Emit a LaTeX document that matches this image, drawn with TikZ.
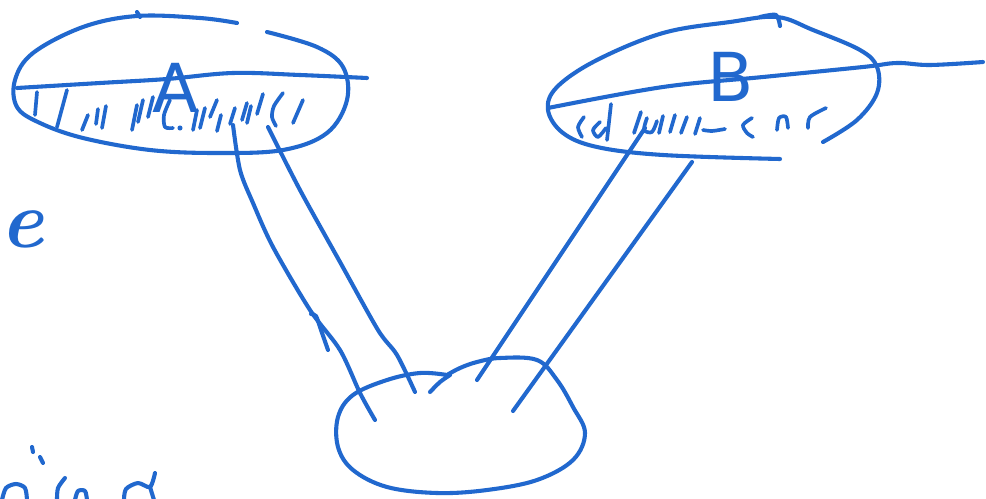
\documentclass[tikz,border=0pt]{standalone}
\usepackage{fontspec}
\setsansfont{DejaVu Sans}
\definecolor{ink}{RGB}{33,104,206}
\tikzset{
  pen/.style={draw=ink, line width=2.9pt, line cap=round, line join=round},
  hatch/.style={pen, line width=2.6pt},
  lettertag/.style={text=ink, inner sep=0pt, font=\sffamily\fontsize{48}{48}\selectfont}
}
\begin{document}
\begin{tikzpicture}[x=0.025cm, y=-0.025cm]
\path[use as bounding box, fill=white] (0,0) rectangle (986,499);

% ---- region A: outline, split line, hatching ----
\draw[pen] plot[smooth, tension=0.6] coordinates {(237,23) (200,18) (137,16) (83,27) (33,53) (15,80) (17,107) (40,123) (83,138) (150,150) (217,153) (283,150) (327,133) (347,100) (343,67) (317,47) (267,32)};
\draw[pen] (137,12) -- (140,17);
\draw[pen] plot[smooth, tension=0.6] coordinates {(17,88) (100,83) (167,79) (233,73) (300,75) (367,78)};
\node[lettertag] (A) at (176,88) {A};
\foreach \a/\b in {
  {(37,92)}/{(35,115)}, {(67,90)}/{(57,127)}, {(88,115)}/{(82,130)},
  {(98,109)}/{(96,124)}, {(106,106)}/{(102,128)}, {(137,105)}/{(132,130)},
  {(143,100)}/{(138,122)}, {(153,97)}/{(148,117)}, {(197,110)}/{(193,130)},
  {(205,108)}/{(200,128)}, {(217,100)}/{(210,117)}, {(221,115)}/{(217,131)},
  {(235,108)}/{(230,124)}, {(247,103)}/{(242,120)}, {(251,106)}/{(247,123)},
  {(263,94)}/{(257,114)}, {(303,100)}/{(293,123)}}
  \draw[hatch] \a -- \b;
\draw[hatch] plot[smooth] coordinates {(170,100) (164,115) (165,127) (173,128)};
\fill[ink] (180,128) circle[radius=1.8pt];
\draw[hatch] plot[smooth] coordinates {(283,93) (274,106) (272,117) (276,126)};

% ---- region B: outline, split line, hatching ----
\draw[pen] plot[smooth, tension=0.6] coordinates {(823,142) (857,120) (877,93) (877,67) (860,50) (813,30) (777,17) (730,22) (663,33) (597,60) (557,87) (548,110) (563,133) (597,147) (663,155) (780,159)};
\draw[pen] plot[smooth] coordinates {(760,17) (776,15) (780,26)};
\draw[pen] plot[smooth, tension=0.6] coordinates {(548,108) (663,87) (763,77) (863,67) (897,63) (930,65) (983,62)};
\node[lettertag] (B) at (731,77) {B};
\draw[hatch] plot[smooth] coordinates {(584,117) (578,127) (582,137)};
\draw[hatch] plot[smooth] coordinates {(600,122) (593,130) (598,137) (606,128)};
\draw[hatch] (611,104) -- (607,140);
\foreach \a/\b in {
  {(641,112)}/{(634,133)}, {(663,116)}/{(659,133)}, {(675,115)}/{(670,132)},
  {(687,117)}/{(681,133)}, {(700,118)}/{(695,134)}}
  \draw[hatch] \a -- \b;
\draw[hatch] plot[smooth] coordinates {(647,118) (644,130) (652,132) (657,121)};
\draw[hatch] plot[smooth] coordinates {(703,130) (712,131) (725,129)};
\draw[hatch] plot[smooth] coordinates {(752,118) (743,125) (747,133) (753,137)};
\draw[hatch] plot[smooth] coordinates {(777,130) (779,118) (786,117) (788,128)};
\draw[hatch] plot[smooth] coordinates {(808,128) (810,117) (826,108)};

% ---- the shared region at the bottom ----
\draw[pen] plot[smooth, tension=0.6] coordinates {(447,375) (420,373) (387,380) (353,395) (338,417) (338,447) (353,470) (387,487) (437,493) (487,490) (537,480) (573,460) (585,433) (573,407) (557,380) (537,360) (500,358) (477,362) (460,368) (447,375)};
\draw[pen] plot[smooth] coordinates {(430,392) (440,382) (450,375)};

% ---- connectors A -> bottom ----
\coordinate (a1) at (233,125);
\coordinate (c1) at (375,420);
\coordinate (a2) at (268,127);
\coordinate (c2) at (415,392);
\draw[pen] plot[smooth, tension=0.5] coordinates {(a1) (240,170) (253,203) (273,247) (310,310) (340,350) (360,393) (c1)};
\draw[pen] plot[smooth] coordinates {(311,314) (316,316) (321,330) (328,350)};
\draw[pen] plot[smooth, tension=0.5] coordinates {(a2) (300,190) (340,262) (378,330) (397,355) (c2)};

% ---- connectors B -> bottom ----
\coordinate (b1) at (645,128);
\coordinate (c3) at (477,380);
\coordinate (b2) at (692,162);
\coordinate (c4) at (513,411);
\draw[pen] (b1) -- (c3);
\draw[pen] (b2) -- (c4);

% ---- margin notes ----
\node[text=ink, inner sep=0pt, font=\bfseries\itshape\fontsize{58}{58}\selectfont, anchor=base west] (e) at (0,247) {e};
\draw[pen] (32,447) -- (33,452);
\draw[pen] (40,457) -- (43,463);
\draw[pen] plot[smooth] coordinates {(2,500) (6,488) (16,484) (25,488) (27,500)};
\draw[pen] plot[smooth] coordinates {(65,478) (58,488) (57,500)};
\draw[pen] plot[smooth] coordinates {(75,500) (78,491) (85,491) (87,500)};
\draw[pen] plot[smooth] coordinates {(155,473) (150,487) (138,483) (126,489) (124,500)};
\draw[pen] (150,487) -- (154,500);
\end{tikzpicture}
\end{document}
